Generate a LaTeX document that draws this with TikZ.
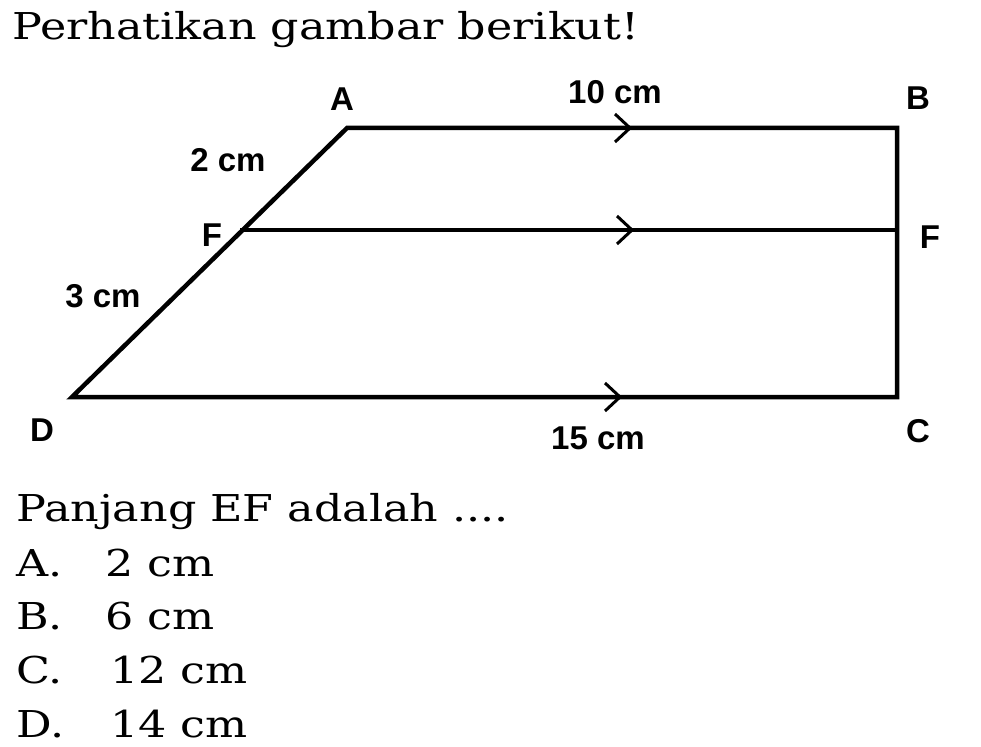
\documentclass[tikz,border=0pt]{standalone}
\usepackage{fontspec}
\setmainfont{DejaVu Serif}[FakeStretch=1.2]
\newfontfamily\labelfont{Liberation Sans}
\usetikzlibrary{positioning}

\tikzset{
  side/.style={line width=4.5pt, line join=miter},
  lbl/.style={font=\labelfont\bfseries\fontsize{33}{33}\selectfont, inner sep=0pt},
  txt/.style={anchor=base west, inner sep=0pt, font=\fontsize{37}{37}\selectfont},
  chev/.pic={\draw[line width=3pt] (-15,14) -- (0,0) -- (-15,-14);}
}

\begin{document}
\begin{tikzpicture}[x=1pt, y=-1pt]

  \useasboundingbox (0,0) rectangle (981,746);

  % title
  \node[txt] (title) at (12,40) {Perhatikan gambar berikut!};

  % corners of the trapezium
  \coordinate (A) at (347,128);
  \coordinate (B) at (897,128);
  \coordinate (C) at (897,397);
  \coordinate (D) at (72,397);
  \coordinate (E) at (240,230);
  \coordinate (F) at (897,230);

  \draw[side] (D) -- (A) -- (B) -- (C) -- cycle;
  \draw[side] (E) -- (F);

  % parallel marks
  \pic at (630,128) {chev};
  \pic at (632,230) {chev};
  \pic at (620,397) {chev};

  % labels
  \node[lbl] (lA) at (342,99) {A};
  \node[lbl] (lB) at (918,98) {B};
  \node[lbl] (lC) at (918,431) {C};
  \node[lbl] (lD) at (42,430) {D};
  \node[lbl] (lE) at (212,235) {F};
  \node[lbl] (lF) at (930,237) {F};
  \node[lbl] (top) at (615,92) {10 cm};
  \node[lbl] (bot) at (598,438) {15 cm};
  \node[lbl] (ae) at (228,160) {2 cm};
  \node[lbl] (ed) at (103,296) {3 cm};

  % question
  \node[txt] (q) at (16,521) {Panjang EF adalah ....};
  \node[txt] (oa) at (16,576) {A.};
  \node[txt] (ob) at (16,629) {B.};
  \node[txt] (oc) at (16,683) {C.};
  \node[txt] (od) at (16,737) {D.};
  \node[txt] (va) at (105,576) {2 cm};
  \node[txt] (vb) at (105,629) {6 cm};
  \node[txt] (vc) at (110,683) {12 cm};
  \node[txt] (vd) at (110,737) {14 cm};

\end{tikzpicture}
\end{document}
